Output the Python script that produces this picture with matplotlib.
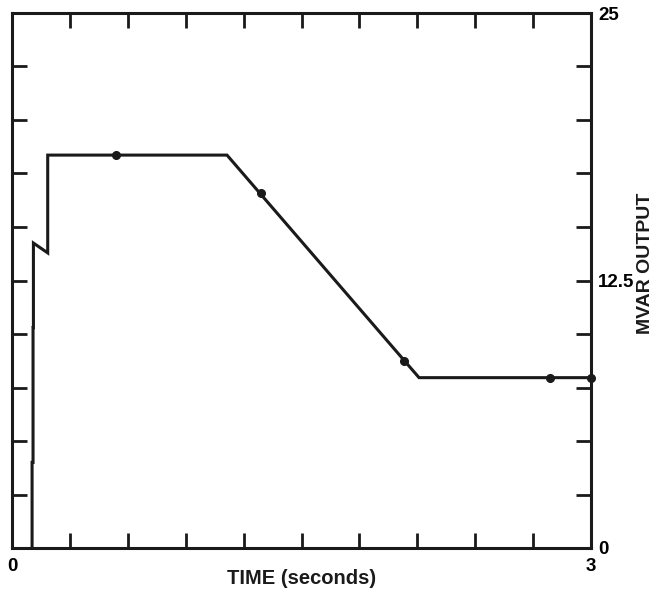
import numpy as np
import matplotlib.pyplot as plt

plt.rcParams['font.family'] = ['Liberation Sans', 'DejaVu Sans']

# MVAR output vs time
t = [0.104, 0.104, 0.109, 0.109, 0.111, 0.111, 0.185, 0.185, 1.114, 2.109, 3.0]
mvar = [0.0, 4.0, 4.0, 10.3, 10.3, 14.25, 13.79, 18.36, 18.36, 7.96, 7.96]

# marked points on the curve
t_dots = [0.539, 1.29, 2.031, 2.788, 2.998]
mvar_dots = [18.36, 16.59, 8.74, 7.96, 7.96]

x_ticks = np.arange(0, 3.01, 0.3)
y_ticks = np.arange(0, 25.01, 2.5)

fig = plt.figure(figsize=(6.6, 5.92), dpi=100)
ax = fig.add_axes([12/660, 44/592, 579/660, 535/592])

ax.plot(t, mvar, color='#1a1a1a', linewidth=2.2, solid_joinstyle='miter')
ax.plot(t_dots, mvar_dots, 'o', color='#1a1a1a', markersize=5.5, clip_on=False)

ax.set_xlim(0, 3)
ax.set_ylim(0, 25)
ax.set_xticks(x_ticks)
ax.set_xticklabels(['0'] + [''] * 9 + ['3'])
ax.set_yticks(y_ticks)
ax.set_yticklabels(['0'] + [''] * 4 + ['12.5'] + [''] * 4 + ['25'])

ax.tick_params(direction='in', length=11, width=2, color='#1a1a1a',
               top=True, bottom=True, left=True, right=True,
               labelleft=False, labelright=True,
               labelsize=13.5)
ax.tick_params(axis='x', pad=7)
ax.tick_params(axis='y', pad=5)
for lab in ax.get_xticklabels() + ax.get_yticklabels():
    lab.set_fontweight('bold')
for s in ax.spines.values():
    s.set_linewidth(2.2)
    s.set_color('#1a1a1a')

fig.text(302/660, 1 - 578/592, 'TIME (seconds)', ha='center', va='center',
         fontsize=14.5, fontweight='bold', color='#1a1a1a')
fig.text(645/660, 1 - 263/592, 'MVAR OUTPUT', ha='center', va='center',
         rotation=90, fontsize=14, fontweight='bold', color='#1a1a1a')

fig.savefig('out.png', dpi=100)
